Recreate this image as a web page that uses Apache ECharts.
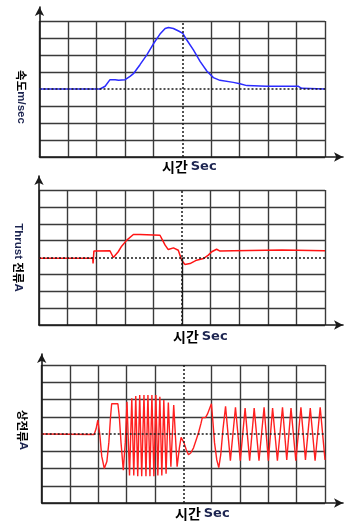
<!DOCTYPE html>
<html><head><meta charset="utf-8">
<script src="https://cdn.jsdelivr.net/npm/echarts@6/dist/echarts.min.js"></script>
<style>html,body{margin:0;padding:0;background:#fff}#c{width:345px;height:524px}</style>
</head><body><div id="c"></div>
<script>
// Chart 1: speed (grid units: x 0..10 divisions, y -4..4 divisions)
const speedT = [0, 2.12, 2.30, 2.47, 2.53, 2.65, 2.77, 3.0, 3.17, 3.29, 3.52, 3.76, 3.99, 4.22, 4.40, 4.52, 4.69, 4.87, 5.02, 5.16, 5.39, 5.63, 5.86, 6.09, 6.32, 6.79, 7.02, 7.26, 7.96, 9.07, 9.18, 10];
const speedV = [0, 0, 0.16, 0.55, 0.61, 0.55, 0.51, 0.55, 0.74, 0.90, 1.43, 2.01, 2.66, 3.23, 3.56, 3.62, 3.56, 3.41, 3.27, 2.88, 2.30, 1.61, 1.06, 0.67, 0.51, 0.39, 0.31, 0.20, 0.16, 0.16, 0.04, 0];
// Chart 2: thrust current
const thrustT = [0, 1.88, 1.89, 1.92, 2.48, 2.60, 2.77, 2.89, 3.07, 3.30, 3.53, 4.23, 4.29, 4.41, 4.52, 4.70, 4.87, 4.93, 4.99, 5.10, 5.28, 5.51, 5.75, 5.92, 6.04, 6.21, 6.33, 6.79, 8.50, 8.55, 10];
const thrustV = [-0.04, -0.04, -0.35, 0.38, 0.40, 0.0, 0.34, 0.67, 1.03, 1.36, 1.36, 1.32, 1.23, 0.73, 0.47, 0.57, 0.43, 0.14, -0.16, -0.41, -0.36, -0.16, -0.06, 0.14, 0.34, 0.49, 0.38, 0.40, 0.44, 0.40, 0.40];
// Chart 3: phase current
const phaseT = [0, 1.85, 1.92, 1.98, 2.05, 2.12, 2.21, 2.30, 2.37, 2.43, 2.47, 2.69, 2.74, 2.80, 2.88, 2.95,
  3.01, 3.10, 3.18, 3.25, 3.32, 3.39, 3.46, 3.53, 3.61, 3.68, 3.75, 3.82, 3.89, 3.96, 4.03, 4.10, 4.17, 4.24, 4.31, 4.39, 4.47, 4.56, 4.66,
  4.78, 4.86, 4.92, 4.97, 5.02, 5.10, 5.18, 5.26, 5.36, 5.46, 5.54, 5.62, 5.67, 5.78, 5.85, 5.92, 5.99, 6.04, 6.10, 6.18, 6.25, 6.32, 6.40, 6.49,
  6.66, 6.84, 7.01, 7.18, 7.34, 7.50, 7.67, 7.85, 8.00, 8.15, 8.32, 8.50, 8.65, 8.80, 8.97, 9.15, 9.31, 9.48, 9.65, 9.83, 10];
const phaseV = [0, -0.03, 0.3, 0.8, 0.0, -1.3, -2.0, -1.6, -0.5, 1.0, 1.75, 1.75, 1.0, -0.5, -2.1, -0.5,
  1.87, -2.4, 2.07, -2.4, 2.2, -2.45, 2.26, -2.45, 2.26, -2.45, 2.26, -2.45, 2.26, -2.45, 2.26, -2.4, 2.16, -2.4, 1.97, -2.3, 1.82, -1.9, 1.68,
  -1.9, -0.8, -0.2, -0.15, -0.5, -0.9, -1.2, -1.1, -0.8, -0.3, 0.1, 0.6, 0.95, 0.95, 1.15, 1.2, 1.75, 0.8, -0.5, -1.5, -1.95, -1.2, 0.3, 1.6,
  -1.55, 1.55, -1.55, 1.5, -1.55, 1.5, -1.55, 1.55, -1.55, 1.5, -1.55, 1.55, -1.5, 1.5, -1.55, 1.55, -1.5, 1.5, -1.55, 1.55, -1.5];
const xTicks = {min: 0, max: 10, interval: 1};
const yTicks = {min: -4, max: 4, interval: 1};

const zip = (a, b) => a.map((v, i) => [v, b[i]]);
const G = '#3a3a3a';
const xLineColors = [G, G, G, G, G, 'rgba(0,0,0,0)', G, G, G, G, G];
const yLineColors = [G, G, G, G, 'rgba(0,0,0,0)', G, G, G, G];
const panels = [
  {left: 39.5, top: 21, bottom: 367, arrowTop: 7, data: zip(speedT, speedV), color: '#2b2bff', lw: 1.5,
   ylab: '{h|속도}{l|m/sec}', gap: 12, pad: [0, 0, 0, 16], title: [162, 160], lowerSolid: false},
  {left: 39, top: 190, bottom: 199, arrowTop: 176, data: zip(thrustT, thrustV), color: '#ff1414', lw: 1.5,
   ylab: '{l|Thrust }{h|전류}{l|A}', gap: 15, pad: [0, 0, 0, 0], title: [173, 330], lowerSolid: true},
  {left: 41.7, top: 365, bottom: 21, arrowTop: 354, data: zip(phaseT, phaseV), color: '#ff2020', lw: 1.4,
   ylab: '{h|상전류}{l|A}', gap: 13, pad: [0, 8, 0, 0], title: [175, 507], lowerSolid: false}
];
const grid = [], xAxis = [], yAxis = [], series = [], title = [];
const rich = {
  h: {fontFamily: 'Noto Sans CJK KR', fontWeight: 'bold', fontSize: 11.5, color: '#000'},
  l: {fontFamily: 'Liberation Sans', fontWeight: 'bold', fontSize: 11.5, color: '#1c2450'}
};
panels.forEach((p, k) => {
  grid.push({left: p.left, right: 20, top: p.top, bottom: p.bottom});
  grid.push({left: p.left, right: 2, top: p.arrowTop, bottom: p.bottom});
  const gi = 2 * k;
  xAxis.push(Object.assign({type: 'value', gridIndex: gi, axisLine: {show: false}, axisTick: {show: false}, axisLabel: {show: false},
    splitLine: {show: true, lineStyle: {color: xLineColors, width: 1.4}}}, xTicks));
  yAxis.push(Object.assign({type: 'value', gridIndex: gi, axisLine: {show: false}, axisTick: {show: false}, axisLabel: {show: false},
    splitLine: {show: true, lineStyle: {color: yLineColors, width: 1.4}},
    name: p.ylab, nameLocation: 'middle', nameRotate: -90, nameGap: p.gap,
    nameTextStyle: {rich: rich, padding: p.pad}}, yTicks));
  const arrowLine = {show: true, symbol: ['none', 'arrow'], symbolSize: [7, 9], lineStyle: {color: '#1a1a1a', width: 1.6}};
  xAxis.push({type: 'value', gridIndex: gi + 1, min: 0, max: 1, axisLine: arrowLine, axisTick: {show: false}, axisLabel: {show: false}, splitLine: {show: false}});
  yAxis.push({type: 'value', gridIndex: gi + 1, min: 0, max: 1, axisLine: arrowLine, axisTick: {show: false}, axisLabel: {show: false}, splitLine: {show: false}});
  const ml = [{xAxis: 5}, {yAxis: 0}];
  series.push({type: 'line', xAxisIndex: 2 * k, yAxisIndex: 2 * k, data: [], silent: true,
    markLine: {silent: true, symbol: 'none', label: {show: false}, animation: false,
      lineStyle: {color: '#1a1a1a', type: [2, 2], width: 1.5}, data: ml}});
  if (p.lowerSolid) {
    series.push({type: 'line', xAxisIndex: 2 * k, yAxisIndex: 2 * k, data: [], silent: true,
      markLine: {silent: true, symbol: 'none', label: {show: false}, animation: false,
        lineStyle: {color: '#1a1a1a', type: 'solid', width: 1.4}, data: [[{coord: [5, -4]}, {coord: [5, 0]}]]}});
  }
  series.push({type: 'line', xAxisIndex: 2 * k, yAxisIndex: 2 * k, data: p.data, showSymbol: false, animation: false,
    lineStyle: {color: p.color, width: p.lw}});
  title.push({text: '{a|시간}{b|Sec}', left: p.title[0], top: p.title[1], padding: 0,
    textStyle: {rich: {
      a: {fontFamily: 'Noto Sans CJK KR', fontWeight: 'bold', fontSize: 14, color: '#000'},
      b: {fontFamily: 'DejaVu Sans', fontWeight: 'bold', fontSize: 13, color: '#1c2450', padding: [0, 0, 0, 3]}}}});
});
const chart = echarts.init(document.getElementById('c'));
chart.setOption({animation: false, title, grid, xAxis, yAxis, series});
</script></body></html>
